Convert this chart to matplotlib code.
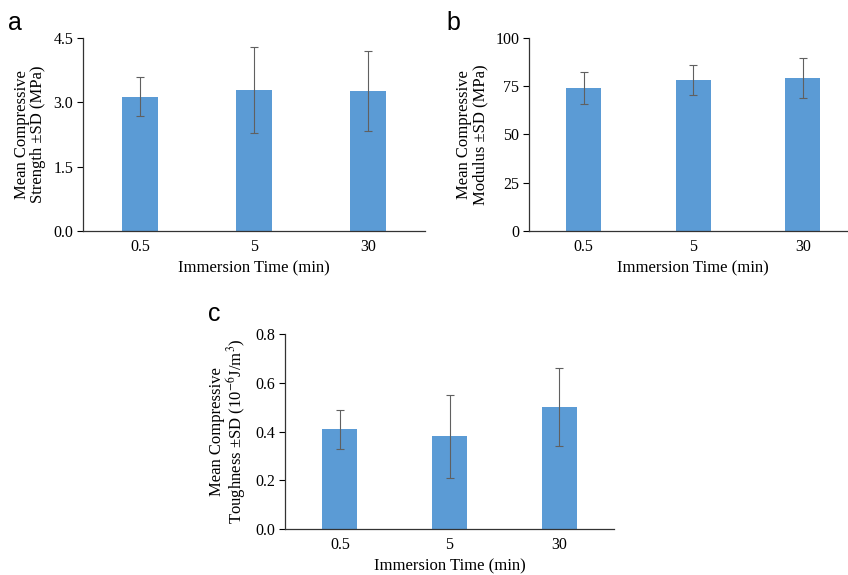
import matplotlib
matplotlib.use('Agg')
import matplotlib.pyplot as plt

# immersion times (categories)
times = ['0.5', '5', '30']

# compressive strength (MPa)
strength = [3.13, 3.28, 3.27]
strength_sd = [0.46, 1.0, 0.93]

# compressive modulus (MPa)
modulus = [74, 78.3, 79.2]
modulus_sd = [8.2, 7.6, 10.4]

# compressive toughness (10^-6 J/m^3)
toughness = [0.41, 0.38, 0.50]
toughness_sd = [0.08, 0.17, 0.16]

bar_color = '#5B9BD5'
err_color = '#606060'

plt.rcParams['font.family'] = ['Liberation Serif', 'DejaVu Serif']
plt.rcParams['mathtext.fontset'] = 'stix'

fig = plt.figure(figsize=(8.48, 5.75), dpi=100)


def bar_panel(rect, vals, sds, ylim, yticks, fmt, ylabel, letter, letter_xy):
    ax = fig.add_axes(rect)
    x = list(range(len(times)))
    ax.bar(x, vals, width=0.32, color=bar_color, zorder=2)
    ax.errorbar(x, vals, yerr=sds, fmt='none', ecolor=err_color, elinewidth=0.8,
                capsize=3, capthick=0.8, zorder=3)
    ax.set_xlim(-0.5, len(times) - 0.5)
    ax.set_ylim(*ylim)
    ax.set_yticks(yticks)
    ax.set_yticklabels([fmt.format(t) for t in yticks], fontsize=11.5)
    ax.set_xticks(x)
    ax.set_xticklabels(times, fontsize=11.5)
    ax.tick_params(axis='x', length=0, pad=6)
    ax.tick_params(axis='y', length=4, width=0.8, direction='out', pad=3)
    for s in ['top', 'right']:
        ax.spines[s].set_visible(False)
    for s in ['left', 'bottom']:
        ax.spines[s].set_color('#333333')
        ax.spines[s].set_linewidth(0.9)
    ax.set_xlabel('Immersion Time (min)', fontsize=12, labelpad=4)
    ax.set_ylabel(ylabel, fontsize=12, labelpad=5, linespacing=1.0)
    fig.text(letter_xy[0], letter_xy[1], letter, fontsize=18, family='Liberation Sans',
             ha='left', va='top')
    return ax


bar_panel([0.0979, 0.5983, 0.4033, 0.3357], strength, strength_sd, (0, 4.5),
          [0, 1.5, 3.0, 4.5], '{:.1f}', 'Mean Compressive\nStrength \u00b1SD (MPa)',
          'a', (0.01, 0.98))
bar_panel([0.6238, 0.5983, 0.3874, 0.3357], modulus, modulus_sd, (0, 100),
          [0, 25, 50, 75, 100], '{:.0f}', 'Mean Compressive\nModulus \u00b1SD (MPa)',
          'b', (0.526, 0.98))
bar_panel([0.3361, 0.08, 0.388, 0.339], toughness, toughness_sd, (0, 0.8),
          [0, 0.2, 0.4, 0.6, 0.8], '{:.1f}',
          'Mean Compressive\nToughness \u00b1SD (10$^{-6}$J/m$^{3}$)',
          'c', (0.245, 0.475))

fig.savefig('out.png', dpi=100)
